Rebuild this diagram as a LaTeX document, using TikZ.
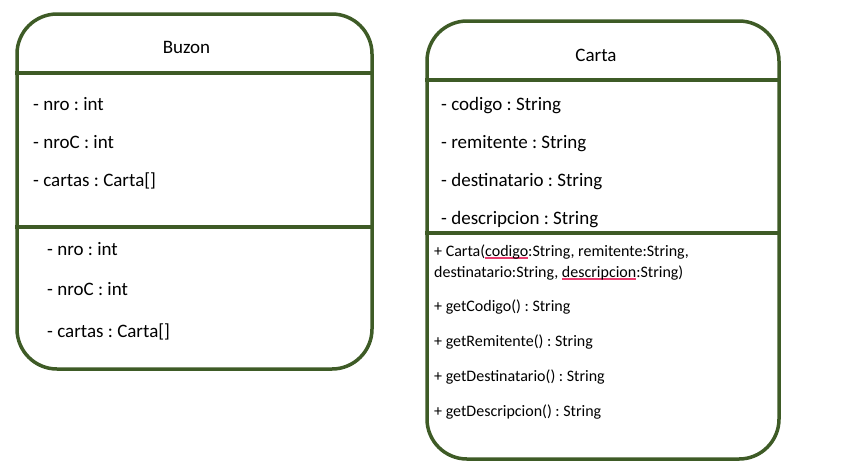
\documentclass[tikz,border=0pt]{standalone}
\usepackage{fontspec}
\setmainfont{Carlito}
\frenchspacing
\definecolor{boxgreen}{RGB}{62,91,38}
\definecolor{spellred}{RGB}{232,60,110}
\newcommand\squigul[1]{\setbox0\hbox{#1}\rlap{\color{spellred}\rule[-2.5pt]{\wd0}{1.2pt}}\box0}
\begin{document}
\begin{tikzpicture}[x=1pt,y=-1pt,
  umlbox/.style={draw=boxgreen, line width=3.5pt, rounded corners=40pt, rectangle, inner sep=0pt},
  divider/.style={draw=boxgreen, line width=3.5pt},
  title/.style={anchor=base, inner sep=0pt, font=\fontsize{19}{22}\selectfont},
  attr/.style={anchor=base west, inner sep=0pt, font=\fontsize{19}{22}\selectfont},
  meth/.style={anchor=base west, inner sep=0pt, font=\fontsize{16}{21}\selectfont, align=left}]
\useasboundingbox (0,0) rectangle (843,475);
% boxes
\node[umlbox, minimum width=355pt, minimum height=355pt] (buzon) at (194.5,191.5) {};
\node[umlbox, minimum width=352pt, minimum height=438pt] (carta) at (603,240) {};
% dividers
\coordinate (b1) at (0,73); \coordinate (b2) at (0,227);
\coordinate (c1) at (0,80); \coordinate (c2) at (0,233);
\draw[divider] (buzon.west |- b1) -- (buzon.east |- b1);
\draw[divider] (buzon.west |- b2) -- (buzon.east |- b2);
\draw[divider] (carta.west |- c1) -- (carta.east |- c1);
\draw[divider] (carta.west |- c2) -- (carta.east |- c2);
% Buzon texts
\node[title] (tb) at (186.5,53) {Buzon};
\node[attr] (ba1) at (33,110) {- nro : int};
\node[attr] (ba2) at (33,148) {- nroC : int};
\node[attr] (ba3) at (33,186) {- cartas : Carta[]};
\node[attr] (bm1) at (47,255) {- nro : int};
\node[attr] (bm2) at (47,295) {- nroC : int};
\node[attr] (bm3) at (47,337) {- cartas : Carta[]};
% Carta texts
\node[title] (tc) at (596,61) {Carta};
\node[attr] (ca1) at (441,110) {- codigo : String};
\node[attr] (ca2) at (441,148) {- remitente : String};
\node[attr] (ca3) at (441,186) {- destinatario : String};
\node[attr] (ca4) at (441,224) {- descripcion : String};
\node[meth] (cm0) at (434,256) {+ Carta(\squigul{codigo}:String, remitente:String,};
\node[meth] (cm0b) at (434,277) {destinatario:String, \squigul{descripcion}:String)};
\node[meth] (cm1) at (434,311) {+ getCodigo() : String};
\node[meth] (cm2) at (434,346) {+ getRemitente() : String};
\node[meth] (cm3) at (434,381) {+ getDestinatario() : String};
\node[meth] (cm4) at (434,416) {+ getDescripcion() : String};
\end{tikzpicture}
\end{document}
